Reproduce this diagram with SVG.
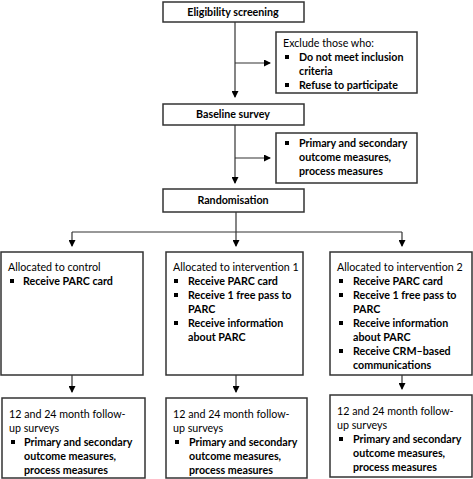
<svg xmlns="http://www.w3.org/2000/svg" width="473" height="479" viewBox="0 0 473 479">
<defs>
<marker id="ah" markerWidth="7" markerHeight="7" refX="6" refY="3.5" orient="auto" markerUnits="userSpaceOnUse">
<path d="M0,0 L7,3.5 L0,7 Z" fill="#000"/>
</marker>
<style>
.box{fill:#fff;stroke:#333;stroke-width:1.5}
.ln{fill:none;stroke:#333;stroke-width:1.2}
text{font-family:Lato,"Liberation Sans",sans-serif;font-size:10.7px;fill:#000}
.b{font-weight:bold}
.c{text-anchor:middle}
.bl{fill:#000}
</style>
</defs>
<rect width="473" height="479" fill="#fff"/>
<g id="connectors">
<path class="ln" d="M235,22 V97" marker-end="url(#ah)"/>
<path class="ln" d="M235,63 H270" marker-end="url(#ah)"/>
<path class="ln" d="M235,125 V183" marker-end="url(#ah)"/>
<path class="ln" d="M235,158 H270" marker-end="url(#ah)"/>
<path class="ln" d="M236,212 V246" marker-end="url(#ah)"/>
<path class="ln" d="M72,232 H402"/>
<path class="ln" d="M72,232 V246" marker-end="url(#ah)"/>
<path class="ln" d="M402,232 V246" marker-end="url(#ah)"/>
<path class="ln" d="M72,375 V392" marker-end="url(#ah)"/>
<path class="ln" d="M236,375 V392" marker-end="url(#ah)"/>
<path class="ln" d="M402,375 V389" marker-end="url(#ah)"/>
</g>
<g id="eligibility">
<rect class="box" x="163" y="2" width="141" height="20"/>
<text class="b c" x="233" y="16">Eligibility screening</text>
</g>
<g id="exclude">
<rect class="box" x="276" y="32" width="141" height="61"/>
<text x="283" y="47">Exclude those who:</text>
<rect class="bl" x="285" y="55" width="4" height="4"/>
<text class="b" x="299" y="61">Do not meet inclusion</text>
<text class="b" x="299" y="75">criteria</text>
<rect class="bl" x="285" y="83" width="4" height="4"/>
<text class="b" x="299" y="89">Refuse to participate</text>
</g>
<g id="baseline">
<rect class="box" x="163" y="104" width="141" height="21"/>
<text class="b c" x="233" y="118">Baseline survey</text>
</g>
<g id="measures">
<rect class="box" x="276" y="133" width="141" height="50"/>
<rect class="bl" x="285" y="141" width="4" height="4"/>
<text class="b" x="299" y="147">Primary and secondary</text>
<text class="b" x="299" y="161">outcome measures,</text>
<text class="b" x="299" y="175">process measures</text>
</g>
<g id="randomisation">
<rect class="box" x="163" y="189" width="141" height="23"/>
<text class="b c" x="233" y="204">Randomisation</text>
</g>
<g id="control">
<rect class="box" x="1" y="252" width="142" height="123"/>
<text x="8" y="271">Allocated to control</text>
<rect class="bl" x="10" y="279" width="4" height="4"/>
<text class="b" x="23" y="285">Receive PARC card</text>
</g>
<g id="intervention1">
<rect class="box" x="166" y="252" width="137" height="123"/>
<text x="173" y="271">Allocated to intervention 1</text>
<rect class="bl" x="174" y="279" width="4" height="4"/>
<text class="b" x="188" y="285">Receive PARC card</text>
<rect class="bl" x="174" y="293" width="4" height="4"/>
<text class="b" x="188" y="299">Receive 1 free pass to</text>
<text class="b" x="188" y="313">PARC</text>
<rect class="bl" x="174" y="321" width="4" height="4"/>
<text class="b" x="188" y="327">Receive information</text>
<text class="b" x="188" y="341">about PARC</text>
</g>
<g id="intervention2">
<rect class="box" x="330" y="252" width="142" height="123"/>
<text x="337" y="271">Allocated to intervention 2</text>
<rect class="bl" x="339" y="279" width="4" height="4"/>
<text class="b" x="353" y="285">Receive PARC card</text>
<rect class="bl" x="339" y="293" width="4" height="4"/>
<text class="b" x="353" y="299">Receive 1 free pass to</text>
<text class="b" x="353" y="313">PARC</text>
<rect class="bl" x="339" y="321" width="4" height="4"/>
<text class="b" x="353" y="327">Receive information</text>
<text class="b" x="353" y="341">about PARC</text>
<rect class="bl" x="339" y="349" width="4" height="4"/>
<text class="b" x="353" y="355">Receive CRM–based</text>
<text class="b" x="353" y="369">communications</text>
</g>
<g id="followup-control">
<rect class="box" x="2" y="398" width="143" height="80"/>
<text x="9" y="418">12 and 24 month follow-</text>
<text x="9" y="432">up surveys</text>
<rect class="bl" x="11" y="440" width="4" height="4"/>
<text class="b" x="24" y="446">Primary and secondary</text>
<text class="b" x="24" y="460">outcome measures,</text>
<text class="b" x="24" y="474">process measures</text>
</g>
<g id="followup-intervention1">
<rect class="box" x="166" y="398" width="141" height="80"/>
<text x="173" y="418">12 and 24 month follow-</text>
<text x="173" y="432">up surveys</text>
<rect class="bl" x="175" y="440" width="4" height="4"/>
<text class="b" x="189" y="446">Primary and secondary</text>
<text class="b" x="189" y="460">outcome measures,</text>
<text class="b" x="189" y="474">process measures</text>
</g>
<g id="followup-intervention2">
<rect class="box" x="330" y="395" width="142" height="82"/>
<text x="337" y="415">12 and 24 month follow-</text>
<text x="337" y="429">up surveys</text>
<rect class="bl" x="339" y="437" width="4" height="4"/>
<text class="b" x="353" y="443">Primary and secondary</text>
<text class="b" x="353" y="457">outcome measures,</text>
<text class="b" x="353" y="471">process measures</text>
</g>
</svg>
